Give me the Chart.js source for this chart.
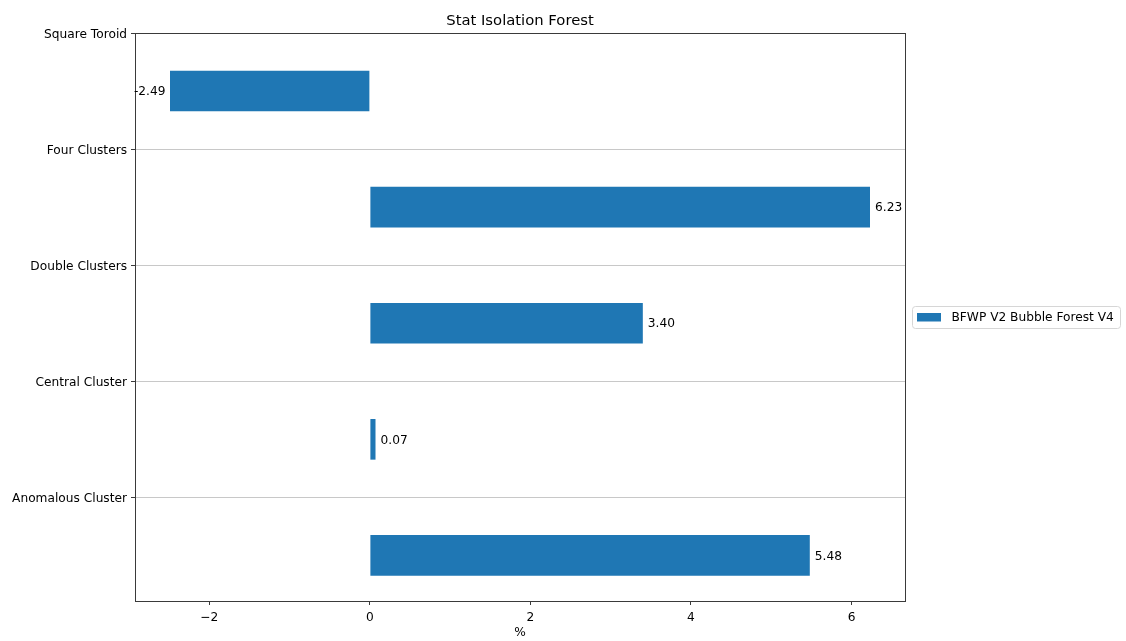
<!DOCTYPE html>
<html>
<head>
<meta charset="utf-8">
<script src="https://cdn.jsdelivr.net/npm/chart.js@4.4.0/dist/chart.umd.min.js"></script>
<style>
  html, body { margin: 0; padding: 0; background: #ffffff; }
  canvas { display: block; }
</style>
</head>
<body>
<canvas id="chart" width="1126" height="641"></canvas>
<script>
// Categories, top to bottom
const categories = ['Square Toroid', 'Four Clusters', 'Double Clusters', 'Central Cluster', 'Anomalous Cluster'];
const seriesName = 'BFWP V2 Bubble Forest V4';
const seriesValues = [-2.49, 6.23, 3.40, 0.07, 5.48];
const xTickValues = [-2, 0, 2, 4, 6];
const chartTitle = 'Stat Isolation Forest';
const xAxisLabel = '%';

const BAR_COLOR = '#1f77b4';
const FONT = '"DejaVu Sans", sans-serif';
const LABEL_SIZE = 12.2;
const TITLE_SIZE = 14.8;
const BAR_HEIGHT = 0.35;

// Bars sit at 0..n-1, category ticks sit half a step above each bar
const barPositions = categories.map((_, i) => i);
const categoryTickPositions = categories.map((_, i) => i - 0.5);

// Axis limits with a 5% margin around the data
const xLo = Math.min(0, ...seriesValues), xHi = Math.max(0, ...seriesValues);
const xPad = (xHi - xLo) * 0.05;
const yLo = -BAR_HEIGHT / 2, yHi = (categories.length - 1) + BAR_HEIGHT / 2;
const yPad = (yHi - yLo) * 0.05;

Chart.defaults.font.family = FONT;
Chart.defaults.font.size = LABEL_SIZE;
Chart.defaults.color = '#000000';

const decorations = {
  id: 'decorations',
  afterDatasetsDraw(chart) {
    const ctx = chart.ctx;
    const a = chart.chartArea;
    ctx.save();

    // axes frame
    ctx.strokeStyle = '#3a3a3a';
    ctx.lineWidth = 1;
    ctx.strokeRect(Math.round(a.left) + 0.5, Math.round(a.top) + 0.5,
                   Math.round(a.right - a.left), Math.round(a.bottom - a.top));

    // value labels at the bar ends
    const meta = chart.getDatasetMeta(0);
    const values = chart.data.datasets[0].data;
    ctx.font = LABEL_SIZE + 'px ' + FONT;
    ctx.fillStyle = '#000000';
    ctx.textBaseline = 'middle';
    meta.data.forEach((bar, i) => {
      const v = values[i].x;
      const txt = v.toFixed(2);
      if (v >= 0) {
        ctx.textAlign = 'left';
        ctx.fillText(txt, bar.x + 5, bar.y + 1);
      } else {
        ctx.textAlign = 'right';
        ctx.fillText(txt, bar.x - 4.5, bar.y + 1);
      }
    });

    // title
    const cx = (a.left + a.right) / 2;
    ctx.textAlign = 'center';
    ctx.textBaseline = 'alphabetic';
    ctx.font = TITLE_SIZE + 'px ' + FONT;
    ctx.fillText(chartTitle, cx, 25);

    // x axis label
    ctx.font = LABEL_SIZE + 'px ' + FONT;
    ctx.fillText(xAxisLabel, cx, 636);

    // legend
    const ds = chart.data.datasets[0];
    const lx = 912.5, ly = 306.5, lw = 208, lh = 22;
    ctx.beginPath();
    ctx.roundRect(lx, ly, lw, lh, 3);
    ctx.fillStyle = 'rgba(255,255,255,0.8)';
    ctx.fill();
    ctx.strokeStyle = '#d6d6d6';
    ctx.lineWidth = 1;
    ctx.stroke();
    ctx.fillStyle = ds.backgroundColor;
    ctx.fillRect(917, 313, 24, 8.5);
    ctx.fillStyle = '#000000';
    ctx.textAlign = 'left';
    ctx.textBaseline = 'middle';
    ctx.fillText(ds.label, 951.5, 318);

    ctx.restore();
  }
};

new Chart(document.getElementById('chart'), {
  type: 'bar',
  data: {
    datasets: [{
      label: seriesName,
      data: seriesValues.map((v, i) => ({ x: v, y: barPositions[i] })),
      backgroundColor: BAR_COLOR,
      borderWidth: 0,
      categoryPercentage: 1.0,
      barPercentage: BAR_HEIGHT
    }]
  },
  options: {
    indexAxis: 'y',
    responsive: false,
    animation: false,
    layout: { padding: { top: 33, right: 221, bottom: 0, left: 0 } },
    plugins: {
      legend: { display: false },
      title: { display: false },
      tooltip: { enabled: false }
    },
    scales: {
      x: {
        type: 'linear',
        min: xLo - xPad,
        max: xHi + xPad,
        afterBuildTicks: (scale) => { scale.ticks = xTickValues.map(v => ({ value: v })); },
        afterFit: (scale) => { scale.height = 40; },
        border: { display: false },
        grid: { drawOnChartArea: false, drawTicks: true, tickLength: 4, tickColor: '#3a3a3a' },
        ticks: {
          padding: 6,
          font: { size: LABEL_SIZE },
          color: '#000000',
          maxRotation: 0,
          callback: (value) => String(value).replace('-', '\u2212')
        }
      },
      y: {
        type: 'linear',
        reverse: true,
        offset: false,
        min: categoryTickPositions[0],
        max: yHi + yPad,
        afterBuildTicks: (scale) => { scale.ticks = categoryTickPositions.map(v => ({ value: v })); },
        afterFit: (scale) => { scale.width = 135; },
        border: { display: false },
        grid: { offset: false, color: '#c8c8c8', lineWidth: 1, drawTicks: true, tickLength: 4, tickColor: '#3a3a3a' },
        ticks: {
          padding: 4,
          labelOffset: 1.5,
          font: { size: LABEL_SIZE },
          color: '#000000',
          autoSkip: false,
          callback: (value, index) => categories[index]
        }
      }
    }
  },
  plugins: [decorations]
});
</script>
</body>
</html>
